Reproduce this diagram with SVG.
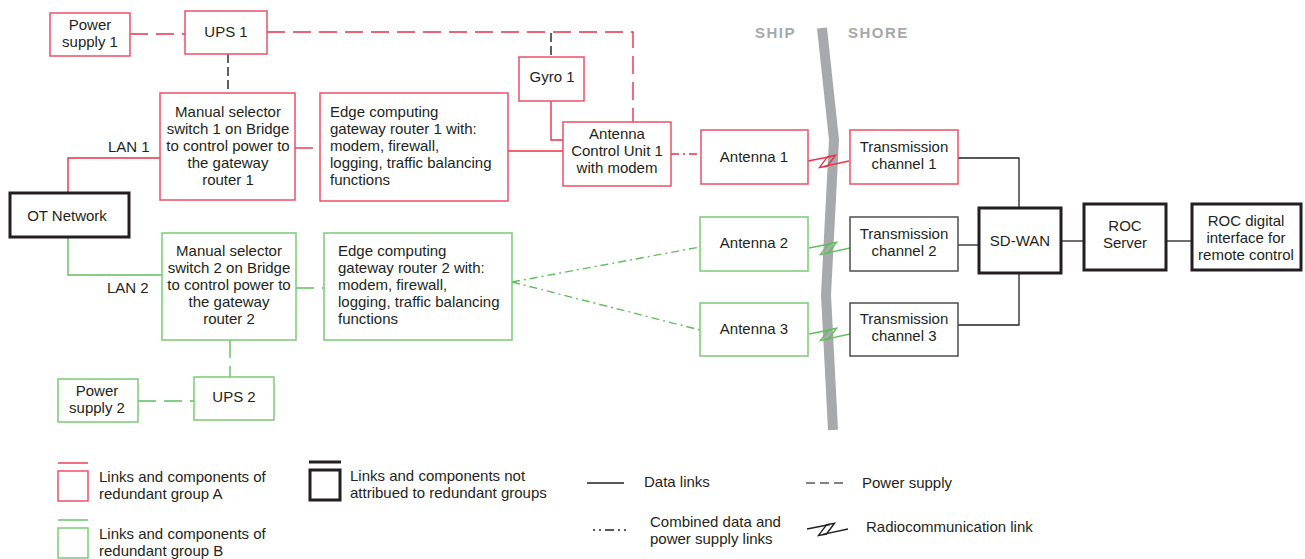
<svg xmlns="http://www.w3.org/2000/svg" width="1305" height="559" viewBox="0 0 1305 559">
<defs>
<style>
text{font-family:"Liberation Sans",Arial,sans-serif;font-size:15px;fill:#231f20}
.c{text-anchor:middle}
.rb{fill:#fff;stroke:#ef4f65;stroke-width:1.5}
.gb{fill:#fff;stroke:#7acb77;stroke-width:1.5}
.kb{fill:#fff;stroke:#231f20;stroke-width:3}
.tb{fill:#fff;stroke:#4d4d4f;stroke-width:1.5}
.rl{fill:none;stroke:#ea3149;stroke-width:1.4}
.gl{fill:none;stroke:#5fbf5b;stroke-width:1.4}
.kl{fill:none;stroke:#231f20;stroke-width:1.3}
.pw{stroke-dasharray:18 8}
.pk{fill:none;stroke:#231f20;stroke-width:1.4;stroke-dasharray:9 4}
.dd{stroke-dasharray:8 4 2 4}
.hd{font-weight:bold;fill:#a7a9ac;letter-spacing:1.5px}
</style>
<g id="bolt">
<path d="M0,0 L23,-4.5" fill="none" stroke-width="1.4"/>
<path d="M19.5,-4.2 L27.5,-5.8 L19.5,5 L11.5,6.4 Z" fill="none" stroke-width="1.4"/>
<path d="M16,5.4 L41,0" fill="none" stroke-width="1.4"/>
</g>
</defs>
<rect width="1305" height="559" fill="#fff"/>

<path d="M822,28 L834,140 L826,295 L833,430" fill="none" stroke="#a7a9ac" stroke-width="10"/>
<text class="hd" x="755" y="38">SHIP</text>
<text class="hd" x="848" y="38">SHORE</text>

<g id="connectors">
<path class="rl pw" d="M130,34 H185"/>
<path class="rl pw" d="M267,32 H633 V122"/>
<path class="pk" d="M228,54 V93"/>
<path class="pk" d="M551,33 V57"/>
<path class="rl pw" d="M295,148 H320"/>
<path class="rl" d="M68,193 V158 H160"/>
<path class="rl" d="M508,151 H563"/>
<path class="rl" d="M551,101 V140 H563"/>
<path class="rl dd" d="M671,154 H701"/>
<use href="#bolt" x="808" y="161" stroke="#ea3149"/>
<path class="gl" d="M68,237 V275 H162"/>
<path class="gl pw" d="M296,288 H324"/>
<path class="gl pw" d="M230,340 V377"/>
<path class="gl pw" d="M138,401 H194"/>
<path class="gl dd" d="M512,282 L700,247"/>
<path class="gl dd" d="M512,282 L700,330"/>
<use href="#bolt" x="809" y="248" stroke="#5fbf5b"/>
<use href="#bolt" x="809" y="334" stroke="#5fbf5b"/>
<path class="kl" d="M958,158 H1019 V208"/>
<path class="kl" d="M958,245 H979"/>
<path class="kl" d="M958,325 H1019 V273"/>
<path class="kl" d="M1061,241 H1084"/>
<path class="kl" d="M1166,241 H1192"/>
</g>

<text x="108" y="152">LAN 1</text>
<text x="107" y="293">LAN 2</text>

<g id="ps1"><rect class="rb" x="50" y="13" width="80" height="43"/><text class="c" x="90" y="30">Power</text><text class="c" x="90" y="47">supply 1</text></g>
<g id="ups1"><rect class="rb" x="185" y="11" width="82" height="43"/><text class="c" x="226" y="37">UPS 1</text></g>
<g id="sel1"><rect class="rb" x="160" y="93" width="135" height="107"/>
<text class="c" x="228" y="117">Manual selector</text><text class="c" x="228" y="134">switch 1 on Bridge</text><text class="c" x="228" y="151">to control power to</text><text class="c" x="228" y="168">the gateway</text><text class="c" x="228" y="185">router 1</text></g>
<g id="edge1"><rect class="rb" x="320" y="93" width="188" height="108"/>
<text x="330" y="117">Edge computing</text><text x="330" y="134">gateway router 1 with:</text><text x="330" y="151">modem, firewall,</text><text x="330" y="168">logging, traffic balancing</text><text x="330" y="185">functions</text></g>
<g id="gyro1"><rect class="rb" x="519" y="57" width="65" height="44"/><text class="c" x="552" y="82">Gyro 1</text></g>
<g id="acu1"><rect class="rb" x="563" y="122" width="108" height="64"/>
<text class="c" x="617" y="139">Antenna</text><text class="c" x="617" y="156">Control Unit 1</text><text class="c" x="617" y="173">with modem</text></g>
<g id="ant1"><rect class="rb" x="701" y="130" width="107" height="54"/><text class="c" x="754" y="162">Antenna 1</text></g>
<g id="tc1"><rect class="rb" x="850" y="130" width="108" height="54"/><text class="c" x="904" y="152">Transmission</text><text class="c" x="904" y="169">channel 1</text></g>

<g id="ot"><rect class="kb" x="10" y="193" width="119" height="44"/><text class="c" x="67" y="221">OT Network</text></g>

<g id="sel2"><rect class="gb" x="162" y="233" width="134" height="107"/>
<text class="c" x="229" y="256">Manual selector</text><text class="c" x="229" y="273">switch 2 on Bridge</text><text class="c" x="229" y="290">to control power to</text><text class="c" x="229" y="307">the gateway</text><text class="c" x="229" y="324">router 2</text></g>
<g id="edge2"><rect class="gb" x="324" y="233" width="188" height="107"/>
<text x="338" y="256">Edge computing</text><text x="338" y="273">gateway router 2 with:</text><text x="338" y="290">modem, firewall,</text><text x="338" y="307">logging, traffic balancing</text><text x="338" y="324">functions</text></g>
<g id="ups2"><rect class="gb" x="194" y="377" width="80" height="43"/><text class="c" x="234" y="402">UPS 2</text></g>
<g id="ps2"><rect class="gb" x="58" y="379" width="80" height="43"/><text class="c" x="97" y="396">Power</text><text class="c" x="97" y="413">supply 2</text></g>
<g id="ant2"><rect class="gb" x="700" y="217" width="108" height="54"/><text class="c" x="754" y="248">Antenna 2</text></g>
<g id="ant3"><rect class="gb" x="700" y="303" width="108" height="53"/><text class="c" x="754" y="334">Antenna 3</text></g>
<g id="tc2"><rect class="tb" x="850" y="217" width="108" height="54"/><text class="c" x="904" y="239">Transmission</text><text class="c" x="904" y="256">channel 2</text></g>
<g id="tc3"><rect class="tb" x="850" y="303" width="108" height="53"/><text class="c" x="904" y="324">Transmission</text><text class="c" x="904" y="341">channel 3</text></g>

<g id="sdwan"><rect class="kb" x="979" y="208" width="82" height="65"/><text class="c" x="1020" y="246">SD-WAN</text></g>
<g id="rocs"><rect class="kb" x="1084" y="204" width="82" height="66"/><text class="c" x="1125" y="231">ROC</text><text class="c" x="1125" y="248">Server</text></g>
<g id="rocd"><rect class="kb" x="1192" y="204" width="109" height="66"/><text class="c" x="1246" y="226">ROC digital</text><text class="c" x="1246" y="243">interface for</text><text class="c" x="1246" y="260">remote control</text></g>

<g id="legend">
<path class="rl" d="M58,463 H88"/>
<rect class="rb" x="58" y="471" width="30" height="30"/>
<text x="99" y="482">Links and components of</text><text x="99" y="499">redundant group A</text>
<path class="gl" d="M58,520 H88"/>
<rect class="gb" x="58" y="528" width="30" height="30"/>
<text x="99" y="539">Links and components of</text><text x="99" y="556">redundant group B</text>
<path d="M309,462 H341" stroke="#231f20" stroke-width="3"/>
<rect class="kb" x="310" y="470" width="30" height="30"/>
<text x="350" y="481">Links and components not</text><text x="350" y="498">attribued to redundant groups</text>
<path class="kl" d="M587,483 H624"/>
<text x="644" y="487">Data links</text>
<path d="M806,483 H843" stroke="#58595b" stroke-width="1.4" stroke-dasharray="9 5"/>
<text x="862" y="488">Power supply</text>
<path d="M593,530 H630" stroke="#231f20" stroke-width="1.3" stroke-dasharray="2 4 2 4 9 4 2 4"/>
<text x="650" y="527">Combined data and</text><text x="650" y="544">power supply links</text>
<use href="#bolt" x="807" y="529" stroke="#231f20"/>
<text x="866" y="532">Radiocommunication link</text>
</g>
</svg>
